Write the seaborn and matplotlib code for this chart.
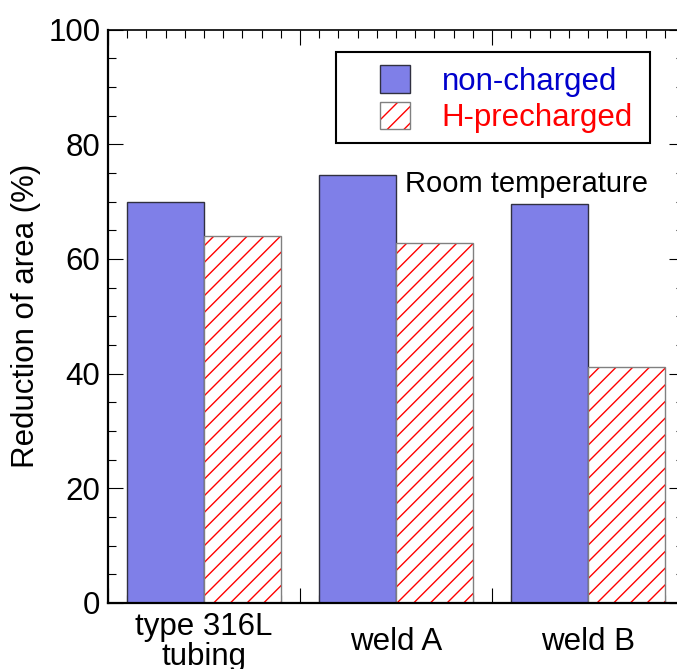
import numpy as np
import pandas as pd
import matplotlib
matplotlib.use("Agg")
import matplotlib.pyplot as plt
import matplotlib.colors as mcolors
from matplotlib.patches import Patch, Rectangle
from matplotlib.ticker import FixedLocator, FixedFormatter, FuncFormatter, MultipleLocator
import seaborn as sns

# ---- data ----
materials = ["type 316L\ntubing", "weld A", "weld B"]
conditions = ["non-charged", "H-precharged"]
non_charged = [69.9, 74.6, 69.5]
h_precharged = [64.0, 62.7, 41.2]
y_ticks = [0, 20, 40, 60, 80, 100]

sns.set_style("ticks")
plt.rcParams["font.family"] = ["Liberation Sans", "DejaVu Sans"]
plt.rcParams["hatch.linewidth"] = 1.0
for k in ["text.color", "axes.labelcolor", "xtick.color", "ytick.color",
          "axes.edgecolor"]:
    plt.rcParams[k] = "black"

df = pd.DataFrame({
    "material": materials * 2,
    "condition": [conditions[0]] * 3 + [conditions[1]] * 3,
    "value": non_charged + h_precharged,
})

BLUE = "#7f7fe8"
RED = "#ff0000"
FS = 22.5

fig = plt.figure(figsize=(6.77, 6.69), dpi=100)
ax = fig.add_axes([108 / 677, 1 - 603 / 669, (684 - 108) / 677, (603 - 29.5) / 669])

sns.barplot(data=df, x="material", y="value", hue="condition",
            order=materials, hue_order=conditions,
            palette=[BLUE, "white"], saturation=1, width=0.8, gap=0,
            edgecolor="#303040", linewidth=1.0, legend=False, ax=ax)

for p in ax.containers[1]:
    p.set_hatch("//")
    p.set_edgecolor("#808080")
    p._hatch_color = mcolors.to_rgba(RED)

ax.set_xlim(-0.5, 2.5)
ax.set_ylim(0, 100)

# y axis
ax.yaxis.set_major_locator(FixedLocator(y_ticks))
ax.yaxis.set_minor_locator(MultipleLocator(5))
ax.set_yticklabels([str(t) for t in y_ticks])
ax.set_ylabel("Reduction of area (%)", fontsize=FS, color="black")
ax.yaxis.set_label_coords(-0.116, 0.5)

# x axis: major ticks at group boundaries, minor every 0.1, labels on minor at centers
ax.xaxis.set_major_locator(FixedLocator([-0.5, 0.5, 1.5, 2.5]))
ax.xaxis.set_major_formatter(FixedFormatter(["", "", "", ""]))
minor_locs = [round(v, 2) for v in np.arange(-0.4, 2.45, 0.1)
              if abs(round(v, 2) - 0.5) > 1e-6 and abs(round(v, 2) - 1.5) > 1e-6]
ax.xaxis.set_minor_locator(FixedLocator(minor_locs))


def cat_label(v, pos=None):
    r = int(round(v))
    if abs(v - r) < 1e-6 and 0 <= r < len(materials):
        return materials[r]
    return ""


ax.xaxis.set_minor_formatter(FuncFormatter(cat_label))
ax.set_xlabel("")

ax.tick_params(which="both", direction="in", top=True, right=True, width=0.8,
               color="black", labelcolor="black")
ax.tick_params(which="major", length=11)
ax.tick_params(which="minor", length=6)
ax.tick_params(axis="y", which="major", labelsize=FS, pad=5.5)
ax.tick_params(axis="x", which="minor", labelsize=FS, pad=28)
for lab in ax.get_xticklabels(minor=True):
    lab.set_verticalalignment("center")
    lab.set_linespacing(1.0)

for s in ["left", "bottom"]:
    ax.spines[s].set_linewidth(1.6)
for s in ["top", "right"]:
    ax.spines[s].set_linewidth(1.2)

# annotation
ax.text((405 - 204) / 192, (603 - 192) / 5.735, "Room temperature",
        fontsize=21, ha="left", va="baseline", color="black")

# legend
handles = [
    Patch(facecolor=BLUE, edgecolor="#303040", linewidth=1.0),
    Patch(facecolor="white", edgecolor="#808080", linewidth=1.0, hatch="//"),
]
handles[1]._hatch_color = mcolors.to_rgba(RED)
leg = ax.legend(handles, conditions, loc="upper left",
                bbox_to_anchor=((381 - 108 - 4) / 576, (603 - 62) / 573.5),
                frameon=False, fontsize=FS, handlelength=0.97,
                handleheight=1.0, handletextpad=1.0, labelspacing=0.15,
                borderpad=0.1, borderaxespad=0)
for t, c in zip(leg.get_texts(), ["#0000cc", RED]):
    t.set_color(c)

# legend frame
ax.add_patch(Rectangle(((336 - 108) / 576, (603 - 143) / 573.5),
                       (650 - 336) / 576, (143 - 52) / 573.5,
                       transform=ax.transAxes, fill=False, edgecolor="black",
                       linewidth=1.5, zorder=5))

fig.savefig("out.png", dpi=100)
